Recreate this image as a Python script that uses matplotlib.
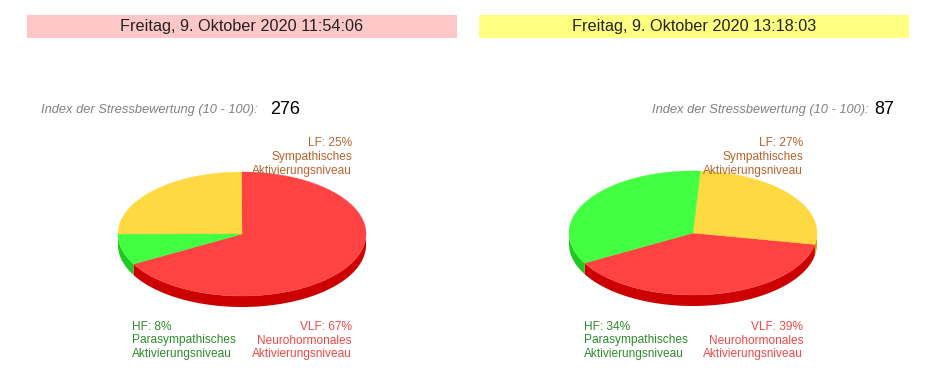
import numpy as np
import matplotlib
matplotlib.use("Agg")
import matplotlib.pyplot as plt
from matplotlib.patches import Polygon, Rectangle

plt.rcParams['font.family'] = ['Liberation Sans', 'DejaVu Sans']

# ---- data ----
headers = ["Freitag, 9. Oktober 2020 11:54:06", "Freitag, 9. Oktober 2020 13:18:03"]
header_colors = ["#FFC8C8", "#FFFF80"]
stress_index = [276, 87]
categories = ["VLF", "LF", "HF"]
values_left = [67, 25, 8]
values_right = [39, 27, 34]
cat_names = {"VLF": "Neurohormonales", "LF": "Sympathisches", "HF": "Parasympathisches"}

top_colors = {"VLF": "#FF4242", "LF": "#FFD942", "HF": "#42FF42"}
side_colors = {"VLF": "#CC0000", "LF": "#CCA000", "HF": "#1EC81E"}
text_colors = {"VLF": "#F04848", "LF": "#B8632E", "HF": "#2E8B2E"}

W, H = 940, 381
fig = plt.figure(figsize=(W / 100, H / 100), dpi=100)
ax = fig.add_axes([0, 0, 1, 1])
ax.set_xlim(0, W)
ax.set_ylim(H, 0)
ax.axis('off')

RX, RY, DEPTH = 124, 62, 11
START = 209.0


def ell(cx, cy, th, dy=0):
    t = np.radians(th)
    return np.column_stack([cx + RX * np.cos(t), cy - RY * np.sin(t) + dy])


def draw_pie(cx, cy, values):
    total = sum(values)
    angles = [START]
    for v in values:
        angles.append(angles[-1] + 360 * v / total)
    # side walls (front half: 180..360 mod 360)
    for i, cat in enumerate(categories):
        a1, a2 = angles[i], angles[i + 1]
        for k in range(-1, 3):
            lo, hi = max(a1, 180 + 360 * k), min(a2, 360 + 360 * k)
            if hi > lo:
                th = np.linspace(lo, hi, 80)
                top = ell(cx, cy, th)
                bot = ell(cx, cy, th[::-1], DEPTH)
                ax.add_patch(Polygon(np.vstack([top, bot]), closed=True,
                                     facecolor=side_colors[cat], edgecolor='none'))
    # top faces
    for i, cat in enumerate(categories):
        th = np.linspace(angles[i], angles[i + 1], 200)
        pts = np.vstack([[cx, cy], ell(cx, cy, th)])
        ax.add_patch(Polygon(pts, closed=True, facecolor=top_colors[cat],
                             edgecolor=top_colors[cat], linewidth=0.3))


def labels(values, lf_x, hf_x, vlf_x):
    d = dict(zip(categories, values))
    kw = dict(va='center', fontsize=8.6, linespacing=1.22)
    ax.text(lf_x, 157, f"LF: {d['LF']}%\n{cat_names['LF']}\nAktivierungsniveau",
            ha='right', color=text_colors['LF'], **kw)
    ax.text(hf_x, 340.5, f"HF: {d['HF']}%\n{cat_names['HF']}\nAktivierungsniveau",
            ha='left', color=text_colors['HF'], **kw)
    ax.text(vlf_x, 340.5, f"VLF: {d['VLF']}%\n{cat_names['VLF']}\nAktivierungsniveau",
            ha='right', color=text_colors['VLF'], **kw)


# headers
for x0, txt, col in [(27, headers[0], header_colors[0]), (479, headers[1], header_colors[1])]:
    ax.add_patch(Rectangle((x0, 15), 430, 23, facecolor=col, edgecolor='none'))
    ax.text(x0 + 215, 26.5, txt, ha='center', va='center', fontsize=11.7, color='#222222')

# index lines
ax.text(41, 110, "Index der Stressbewertung (10 - 100):", ha='left', va='center',
        fontsize=9.3, style='italic', color='#808080')
ax.text(270, 109, str(stress_index[0]), ha='left', va='center', fontsize=13, color='black')
ax.text(869, 110, "Index der Stressbewertung (10 - 100):", ha='right', va='center',
        fontsize=9.3, style='italic', color='#808080')
ax.text(874, 109, str(stress_index[1]), ha='left', va='center', fontsize=13, color='black')

draw_pie(242, 234, values_left)
draw_pie(693, 233, values_right)
labels(values_left, 352, 132, 352)
labels(values_right, 803, 584, 803)

fig.savefig("out.png", dpi=100)
